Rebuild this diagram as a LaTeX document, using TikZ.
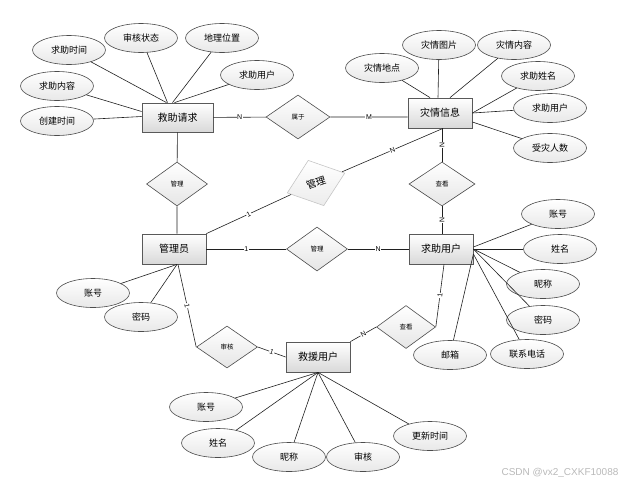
\documentclass[tikz,border=0pt]{standalone}
\usepackage{fontspec}
\setmainfont{Noto Sans CJK SC}
\newfontfamily\latinsf{Liberation Sans}
\usetikzlibrary{shapes.geometric,shadows}
\begin{document}
\begin{tikzpicture}[x=1pt,y=-1pt,
  entity/.style={draw=gray!70!black, line width=0.8pt, top color=white, bottom color=gray!30,
    minimum width=64pt, minimum height=30pt, inner sep=0pt, font=\fontsize{10}{12}\selectfont,
    drop shadow={shadow xshift=1.2pt, shadow yshift=-1.2pt, opacity=0.35}},
  attr/.style={ellipse, draw=gray!60!black, line width=0.6pt, top color=white, bottom color=gray!18,
    minimum width=73pt, minimum height=29pt, inner sep=0pt, font=\fontsize{9}{11}\selectfont},
  rel/.style={diamond, draw=gray!60!black, line width=0.6pt, top color=white, bottom color=gray!20,
    minimum width=61pt, minimum height=44pt, inner sep=0pt, font=\fontsize{6.5}{8}\selectfont},
  card/.style={fill=white, inner sep=0.6pt, font=\latinsf\fontsize{7}{8}\selectfont},
  link/.style={draw=gray!25!black, line width=0.6pt}]
\useasboundingbox (0,0) rectangle (631,485);
% entities
\node[entity, minimum width=71pt, minimum height=29pt] (req) at (177.5,117.5) {救助请求};
\node[entity] (info) at (440,113) {灾情信息};
\node[entity] (admin) at (174,249) {管理员};
\node[entity] (helper) at (441,249) {求助用户};
\node[entity] (rescuer) at (318,357) {救援用户};
% relations
\node[rel, minimum width=64pt] (belong) at (298,117) {属于};
\node[rel] (manageA) at (177,184) {管理};
\node[rel, draw=gray!45, bottom color=gray!15, minimum height=48pt, rotate=19,
  font=\fontsize{10}{12}\selectfont] (manageB) at (316,183) {管理};
\node[rel] (manageC) at (317,249) {管理};
\node[rel, minimum width=66pt] (viewA) at (442,184) {查看};
\node[rel, minimum height=42pt] (audit) at (227,347) {审核};
\node[rel, minimum width=59pt, minimum height=43pt] (viewB) at (406,327) {查看};
% attributes of 救助请求
\node[attr] (reqTime) at (69,50) {求助时间};
\node[attr] (reqState) at (141,38) {审核状态};
\node[attr] (reqPlace) at (222,38) {地理位置};
\node[attr] (reqUser) at (257,75) {求助用户};
\node[attr] (reqText) at (57,86) {求助内容};
\node[attr] (reqMade) at (57,121) {创建时间};
\draw[link] (reqTime) -- ([xshift=-11pt]req.north);
\draw[link] (reqState) -- ([xshift=-10pt]req.north);
\draw[link] (reqPlace) -- ([xshift=-5pt]req.north);
\draw[link] (reqUser) -- ([xshift=-3pt]req.north);
\draw[link] (reqText) -- ([yshift=6pt]req.west);
\draw[link] (reqMade) -- ([yshift=1pt]req.west);
% attributes of 灾情信息
\node[attr] (infoPlace) at (382,68) {灾情地点};
\node[attr] (infoPic) at (439,45) {灾情图片};
\node[attr] (infoText) at (514,45) {灾情内容};
\node[attr] (infoName) at (538,76) {求助姓名};
\node[attr] (infoUser) at (550,108) {求助用户};
\node[attr] (infoCount) at (550,148) {受灾人数};
\draw[link] (infoPlace) -- ([xshift=-10pt]info.north);
\draw[link] (infoPic) -- ([xshift=-2pt]info.north);
\draw[link] (infoText) -- ([xshift=10pt]info.north);
\draw[link] (infoName) -- (info.east);
\draw[link] (infoUser) -- (info.east);
\draw[link] (infoCount) -- ([yshift=-9pt]info.east);
% attributes of 管理员
\node[attr] (adminId) at (93,293) {账号};
\node[attr] (adminPwd) at (141,317) {密码};
\draw[link] (adminId) -- ([xshift=3pt]admin.south);
\draw[link] (adminPwd) -- ([xshift=3pt]admin.south);
% attributes of 求助用户
\node[attr] (helperId) at (558,214) {账号};
\node[attr] (helperName) at (560,249) {姓名};
\node[attr] (helperNick) at (543,284) {昵称};
\node[attr] (helperPwd) at (543,320) {密码};
\node[attr] (helperMail) at (450,355) {邮箱};
\node[attr] (helperTel) at (527,354) {联系电话};
\draw[link] (helperId) -- ([yshift=2pt]helper.east);
\draw[link] (helperName) -- (helper.east);
\draw[link] (helperNick) -- (helper.east);
\draw[link] (helperPwd) -- (helper.east);
\draw[link] (helperMail) -- ([yshift=-5pt]helper.east);
\draw[link] (helperTel) -- ([yshift=-5pt]helper.east);
% attributes of 救援用户
\node[attr] (rescuerId) at (206,407) {账号};
\node[attr] (rescuerName) at (218,443) {姓名};
\node[attr] (rescuerNick) at (289,457) {昵称};
\node[attr] (rescuerAudit) at (363,457) {审核};
\node[attr] (rescuerTime) at (430,436) {更新时间};
\foreach \a in {rescuerId,rescuerName,rescuerNick,rescuerAudit,rescuerTime}
  \draw[link] (\a) -- (rescuer.south);
% relationships
\draw[link] (req) -- node[card] {N} (belong) -- node[card] {M} ([yshift=-4pt]info.west);
\draw[link] (req) -- (manageA) -- (manageA |- admin.north);
\draw[link] (admin.north east) -- node[card, sloped] {1} (manageB)
  -- node[card, sloped] {N} ([xshift=3pt]info.south);
\draw[link] (admin) -- node[card] {1} (manageC) -- node[card] {N} (helper);
\draw[link] (viewA |- info.south) -- node[card, sloped] {N} (viewA)
  -- node[card, sloped] {N} (viewA |- helper.north);
\draw[link] ([xshift=4pt]admin.south) -- node[card, sloped] {1} (audit.west);
\draw[link] (audit.east) -- node[card, sloped] {1} (rescuer.west);
\draw[link] ([xshift=3pt]helper.south) -- node[card, sloped] {1} (viewB.east);
\draw[link] (viewB.west) -- node[card, sloped] {N} (rescuer.north east);
% watermark
\node[text=gray!55, font=\latinsf\fontsize{10}{12}\selectfont] (mark) at (560,473) {CSDN @vx2\_CXKF10088};
\end{tikzpicture}
\end{document}
